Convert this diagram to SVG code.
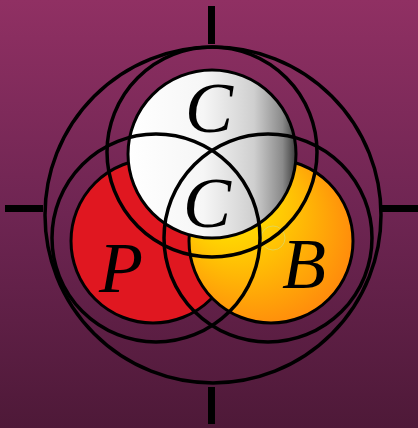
<svg xmlns="http://www.w3.org/2000/svg" width="418" height="428" viewBox="0 0 418 428">
  <defs>
    <linearGradient id="bg" x1="0" y1="0" x2="0" y2="1">
      <stop offset="0" stop-color="#903063"/>
      <stop offset="0.5" stop-color="#6e2552"/>
      <stop offset="1" stop-color="#4e1938"/>
    </linearGradient>
    <linearGradient id="whiteFill" x1="0" y1="0" x2="1" y2="0">
      <stop offset="0" stop-color="#ffffff"/>
      <stop offset="0.45" stop-color="#f6f6f6"/>
      <stop offset="0.75" stop-color="#cfcfcf"/>
      <stop offset="0.92" stop-color="#8a8a8a"/>
      <stop offset="1" stop-color="#3c3c3c"/>
    </linearGradient>
    <radialGradient id="orangeFill" cx="0.42" cy="0.45" r="0.6" fx="0.1" fy="0.05">
      <stop offset="0" stop-color="#ffff00"/>
      <stop offset="0.35" stop-color="#ffe000"/>
      <stop offset="1" stop-color="#ff8a0c"/>
    </radialGradient>
  </defs>
  <style>
    .outline { stroke: #000; stroke-width: 3; }
    .ring { fill: none; stroke: #000; stroke-width: 3.5; }
    .tick { fill: #000; }
    .label { font-family: "Liberation Serif", "Times New Roman", serif; font-style: italic; font-size: 72px; fill: #000; text-anchor: middle; }
  </style>

  <rect x="0" y="0" width="418" height="428" fill="url(#bg)"/>

  <g id="crosshair">
    <rect class="tick" x="208" y="6" width="7" height="38"/>
    <rect class="tick" x="208" y="387" width="7" height="37"/>
    <rect class="tick" x="5" y="205" width="38" height="7"/>
    <rect class="tick" x="382" y="205" width="36" height="7"/>
  </g>

  <g id="node-P">
    <circle class="outline" cx="153" cy="241" r="82" fill="#e01720"/>
    <text class="label" x="121" y="292">P</text>
  </g>

  <g id="node-B">
    <circle class="outline" cx="271" cy="241" r="82" fill="url(#orangeFill)"/>
    <circle cx="273" cy="238" r="12" fill="none" stroke="#d8d870" stroke-width="1" opacity="0.7"/>
    <text class="label" x="304" y="288">B</text>
  </g>

  <g id="node-C">
    <circle class="outline" cx="212" cy="154" r="84" fill="url(#whiteFill)"/>
    <text class="label" x="209" y="132">C</text>
  </g>

  <g id="connectors">
    <circle class="ring" cx="213" cy="215" r="168"/>
    <circle class="ring" cx="212" cy="152" r="105"/>
    <circle class="ring" cx="156" cy="238" r="104"/>
    <circle class="ring" cx="268" cy="238" r="104"/>
  </g>

  <g id="node-CC">
    <text class="label" x="207" y="227">C</text>
  </g>
</svg>
